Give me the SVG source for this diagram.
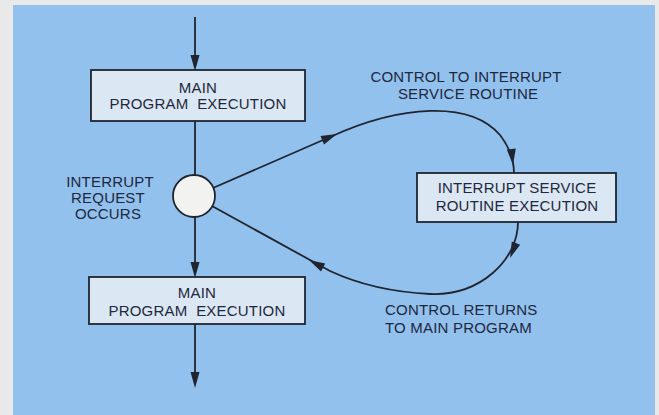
<svg xmlns="http://www.w3.org/2000/svg" width="659" height="415" viewBox="0 0 659 415">
<style>
.t{font-family:"Liberation Sans",Arial,sans-serif;font-size:15px;fill:#1e2740;letter-spacing:0.2px;white-space:pre}
.box{fill:#dbe7f2;stroke:#1f2430;stroke-width:1.8}
.ln{fill:none;stroke:#1f2430;stroke-width:1.8}
.ah{fill:#1f2430}
</style>
<defs>
<path id="ah" d="M0,0 L-16,-4.5 L-16,4.5 Z"/>
</defs>
<rect x="0" y="0" width="659" height="415" fill="#e9e9e9"/>
<rect x="13" y="5" width="642" height="410" fill="#91c1ec"/>
<g id="connectors">
<line class="ln" x1="195" y1="17" x2="195" y2="66"/>
<line class="ln" x1="195" y1="121" x2="195" y2="175"/>
<line class="ln" x1="195" y1="217" x2="195" y2="273"/>
<line class="ln" x1="195" y1="324" x2="195" y2="383"/>
<path class="ln" d="M213,188 L330,137 C400,105 470,100 500,135 C510,148 514,160 514,173"/>
<path class="ln" d="M518,222 C518,260 480,296 430,294 C390,292 360,285 330,271 L212,206"/>
<use href="#ah" class="ah" transform="translate(195,71) rotate(90)"/>
<use href="#ah" class="ah" transform="translate(195,278) rotate(90)"/>
<use href="#ah" class="ah" transform="translate(195,388) rotate(90)"/>
<use href="#ah" class="ah" transform="translate(337,134) rotate(-23)"/>
<use href="#ah" class="ah" transform="translate(513,165) rotate(84)"/>
<use href="#ah" class="ah" transform="translate(510,258) rotate(112)"/>
<use href="#ah" class="ah" transform="translate(309,260) rotate(-152)"/>
</g>
<g id="main1">
<rect class="box" x="91" y="70" width="214" height="51"/>
<text class="t" x="198" y="93" text-anchor="middle">MAIN</text>
<text class="t" x="198" y="109" text-anchor="middle" xml:space="preserve">PROGRAM  EXECUTION</text>
</g>
<g id="request">
<circle cx="194" cy="196" r="21" fill="#f2f2f0" stroke="#1f2430" stroke-width="1.8"/>
<text class="t" x="110" y="187" text-anchor="middle">INTERRUPT</text>
<text class="t" x="108" y="203" text-anchor="middle">REQUEST</text>
<text class="t" x="108" y="219" text-anchor="middle">OCCURS</text>
</g>
<g id="isr">
<rect class="box" x="417" y="173" width="199" height="49"/>
<text class="t" x="517" y="193" text-anchor="middle">INTERRUPT SERVICE</text>
<text class="t" x="517" y="211" text-anchor="middle">ROUTINE EXECUTION</text>
</g>
<g id="main2">
<rect class="box" x="89" y="277" width="216" height="47"/>
<text class="t" x="197" y="298" text-anchor="middle">MAIN</text>
<text class="t" x="197" y="316" text-anchor="middle" xml:space="preserve">PROGRAM  EXECUTION</text>
</g>
<g id="labels">
<text class="t" x="466" y="82" text-anchor="middle">CONTROL TO INTERRUPT</text>
<text class="t" x="468" y="99" text-anchor="middle">SERVICE ROUTINE</text>
<text class="t" x="385" y="315">CONTROL RETURNS</text>
<text class="t" x="385" y="333">TO MAIN PROGRAM</text>
</g>
</svg>
